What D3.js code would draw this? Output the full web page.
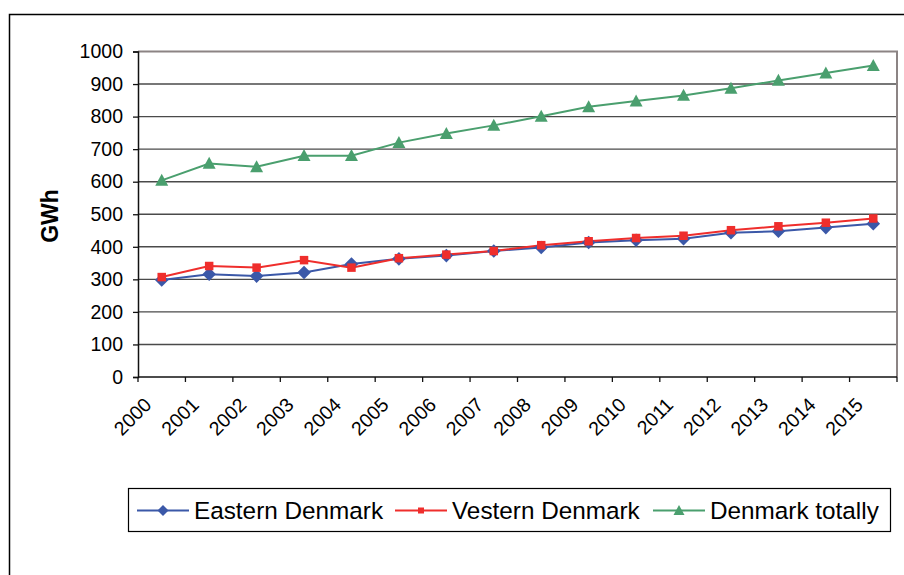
<!DOCTYPE html>
<html><head><meta charset="utf-8">
<script src="https://cdn.jsdelivr.net/npm/d3@7"></script>
<style>body{margin:0;background:#fff}svg{display:block}text{font-family:Arial,"Liberation Sans",sans-serif}</style>
</head><body>
<script>
const years = ["2000","2001","2002","2003","2004","2005","2006","2007","2008","2009","2010","2011","2012","2013","2014","2015"];
const eastern = [298,316,310,321,347,363,373,387,398,413,420,425,443,448,459,471];
const western = [307,341,336,359,336,365,376,387,405,417,427,434,451,463,474,487];
const total   = [604,656,646,680,680,720,748,773,801,830,848,865,887,911,934,957];
const yTicks = [0,100,200,300,400,500,600,700,800,900,1000];
const seriesNames = ["Eastern Denmark","Vestern Denmark","Denmark totally"];
const colors = ["#3b58a8","#ef2e2c","#4a9f6e"];

const W=904,H=575;
const svg=d3.select("body").append("svg").attr("width",W).attr("height",H);
// outer frame
svg.append("path").attr("d","M9.5,575 L9.5,14.5 L904,14.5").attr("fill","none").attr("stroke","#000").attr("stroke-width",1.5);

const L=138,R=897,T=51.5,B=377;
const x=d3.scaleBand().domain(years).range([L,R]);
const y=d3.scaleLinear().domain([0,1000]).range([B,T]);

// gridlines
svg.append("g").selectAll("line").data(yTicks.filter(d=>d>0&&d<1000)).join("line")
  .attr("x1",L).attr("x2",R).attr("y1",d=>y(d)).attr("y2",d=>y(d))
  .attr("stroke","#4a4a4a").attr("stroke-width",1.4);
// plot border top/right
svg.append("path").attr("d",`M${L},${T} L${R},${T} L${R},${B}`).attr("fill","none").attr("stroke","#8c8484").attr("stroke-width",2);

// y axis
const ya=svg.append("g").attr("transform",`translate(${L},0)`)
  .call(d3.axisLeft(y).tickValues(yTicks).tickFormat(d3.format("d")).tickSize(5).tickPadding(10));
ya.select(".domain").attr("stroke","#111").attr("stroke-width",1.5);
ya.selectAll(".tick line").attr("stroke","#111").attr("stroke-width",1.3);
ya.selectAll("text").attr("font-size","19.5px").attr("fill","#000").attr("font-family","Arial,'Liberation Sans',sans-serif");

// x axis
const xa=svg.append("g").attr("transform",`translate(0,${B})`);
xa.append("line").attr("x1",L).attr("x2",R).attr("stroke","#111").attr("stroke-width",1.5);
const bounds=years.map(d=>x(d)).concat([R]);
xa.selectAll("line.t").data(bounds).join("line").attr("class","t")
  .attr("x1",d=>d).attr("x2",d=>d).attr("y1",0).attr("y2",5).attr("stroke","#111").attr("stroke-width",1.3);
xa.selectAll("text").data(years).join("text")
  .attr("transform",d=>`translate(${x(d)+x.bandwidth()/2-9},${29}) rotate(-45)`)
  .attr("text-anchor","end").attr("font-size","19.5px").attr("fill","#000").text(d=>d);

// y label
svg.append("text").attr("transform","translate(58,216) rotate(-90)").attr("text-anchor","middle")
  .attr("font-size","23px").attr("font-weight","bold").text("GWh");

const cx=d=>x(d)+x.bandwidth()/2;
const data=[eastern,western,total];
const line=d3.line().x((v,i)=>cx(years[i])).y(v=>y(v));
const diamond=r=>`M0,${-r}L${r},0L0,${r}L${-r},0Z`;
const tri=(w,h)=>`M0,${-h*0.55}L${w/2},${h*0.45}L${-w/2},${h*0.45}Z`;
const sq=s=>`M${-s/2},${-s/2}h${s}v${s}h${-s}Z`;
const sym=[diamond(6.8),sq(8.5),tri(13,12)];
data.forEach((s,k)=>{
  svg.append("path").datum(s).attr("d",line).attr("fill","none").attr("stroke",colors[k]).attr("stroke-width",2);
});
data.forEach((s,k)=>{
  svg.append("g").selectAll("path").data(s).join("path")
    .attr("transform",(v,i)=>`translate(${cx(years[i])},${y(v)})`)
    .attr("d",sym[k]).attr("fill",colors[k]);
});

// legend
svg.append("rect").attr("x",128.5).attr("y",488.5).attr("width",762).attr("height",43).attr("fill","#fff").attr("stroke","#000").attr("stroke-width",1.2);
const legX=[137,395,653];
const legSym=[diamond(5.5),sq(6),tri(11,10)];
seriesNames.forEach((n,k)=>{
  const g=svg.append("g").attr("transform",`translate(${legX[k]},510.5)`);
  g.append("line").attr("x1",0).attr("x2",52).attr("stroke",colors[k]).attr("stroke-width",2);
  g.append("path").attr("transform","translate(26,0)").attr("d",legSym[k]).attr("fill",colors[k]);
  g.append("text").attr("x",57).attr("y",8.5).attr("font-size","24.3px").attr("fill","#000").text(n);
});
</script>
</body></html>
